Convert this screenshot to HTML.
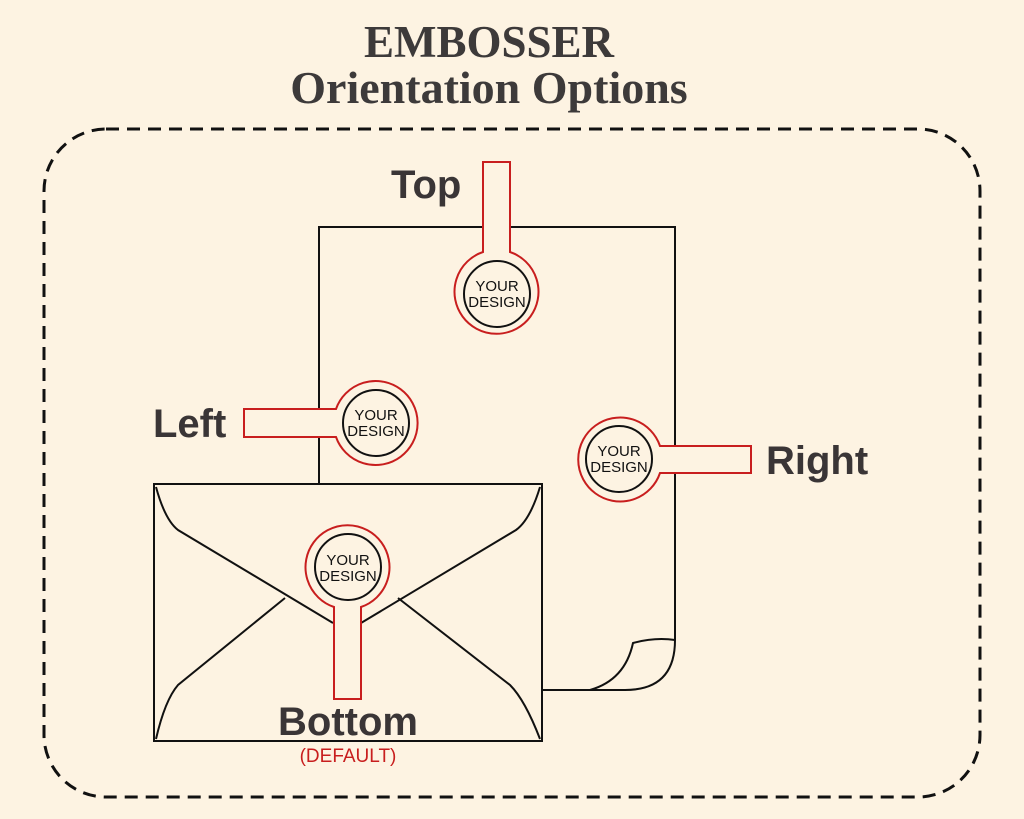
<!DOCTYPE html>
<html><head><style>
html,body{margin:0;padding:0;background:#fdf3e2;}
svg{display:block}
</style></head><body>
<svg width="1024" height="819" viewBox="0 0 1024 819" xmlns="http://www.w3.org/2000/svg">
<rect width="1024" height="819" fill="#fdf3e2"/>
<text x="489" y="57" text-anchor="middle" font-family="Liberation Serif, serif" font-weight="bold" font-size="45" fill="#3d3a3a">EMBOSSER</text>
<text x="489" y="103" text-anchor="middle" font-family="Liberation Serif, serif" font-weight="bold" font-size="46" fill="#3d3a3a">Orientation Options</text>
<rect x="44" y="129" width="936" height="668" rx="62" fill="none" stroke="#111" stroke-width="3" stroke-dasharray="13 8"/>

<!-- paper -->
<path d="M319,484 L319,227 L675,227 L675,640 Q675,690 625,690 L542,690" fill="#fdf3e2" stroke="#111" stroke-width="2"/>
<path d="M590,690 Q625,680 633,643 Q655,637 675,640" fill="none" stroke="#111" stroke-width="2"/>

<g font-family="Liberation Sans, sans-serif" font-size="15" fill="#111" text-anchor="middle">
<!-- top -->
<path d="M483,162 L510,162 L510,252 A42,42 0 1 1 483,252 Z" fill="#fdf3e2" stroke="#c81e1e" stroke-width="2"/>
<circle cx="497" cy="294" r="33" fill="#fdf3e2" stroke="#111" stroke-width="2"/>
<text x="497" y="291">YOUR</text><text x="497" y="307">DESIGN</text>
<!-- left -->
<path d="M244,409 L336,409 A42,42 0 1 1 336,437 L244,437 Z" fill="#fdf3e2" stroke="#c81e1e" stroke-width="2"/>
<circle cx="376" cy="423" r="33" fill="#fdf3e2" stroke="#111" stroke-width="2"/>
<text x="376" y="420">YOUR</text><text x="376" y="436">DESIGN</text>
<!-- right -->
<path d="M751,446 L660,446 A42,42 0 1 0 660,473 L751,473 Z" fill="#fdf3e2" stroke="#c81e1e" stroke-width="2"/>
<circle cx="619" cy="459" r="33" fill="#fdf3e2" stroke="#111" stroke-width="2"/>
<text x="619" y="456">YOUR</text><text x="619" y="472">DESIGN</text>
</g>

<!-- envelope -->
<rect x="154" y="484" width="388" height="257" fill="#fdf3e2" stroke="#111" stroke-width="2"/>
<path d="M156,487 Q165,520 178,530 L333,623 M361,623 L516,530 Q530,520 540,487" fill="none" stroke="#111" stroke-width="2"/>
<path d="M156,739 Q165,700 178,685 L285,598 M398,598 L510,685 Q525,700 540,739" fill="none" stroke="#111" stroke-width="2"/>
<g font-family="Liberation Sans, sans-serif" font-size="15" fill="#111" text-anchor="middle">
<path d="M334,699 L361,699 L361,607 A42,42 0 1 0 334,607 Z" fill="#fdf3e2" stroke="#c81e1e" stroke-width="2"/>
<circle cx="348" cy="567" r="33" fill="#fdf3e2" stroke="#111" stroke-width="2"/>
<text x="348" y="565">YOUR</text><text x="348" y="581">DESIGN</text>
</g>

<g font-family="Liberation Sans, sans-serif" font-weight="bold" font-size="40" fill="#3a3536">
<text x="391" y="198">Top</text>
<text x="153" y="437">Left</text>
<text x="766" y="474">Right</text>
<text x="348" y="735" text-anchor="middle">Bottom</text>
</g>
<text x="348" y="762" text-anchor="middle" font-family="Liberation Sans, sans-serif" font-size="19" fill="#c81e1e">(DEFAULT)</text>
</svg>
</body></html>
